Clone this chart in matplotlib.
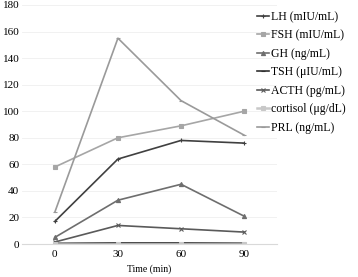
import matplotlib
matplotlib.use("Agg")
import matplotlib.pyplot as plt

# ── data ──────────────────────────────────────────────────────────────────────
time_min = [0, 30, 60, 90]
lh = [17, 64, 78, 76]
fsh = [58, 80, 89, 100]
gh = [5, 33, 45, 21]
tsh = [0.5, 0.8, 0.8, 0.6]
acth = [1.5, 14, 11.5, 9]
cortisol = [0.3, 0.3, 0.3, 0.3]
prl = [24, 155, 108, 82]

series = [
    ("LH (mIU/mL)", lh, "#404040", "+"),
    ("FSH (mIU/mL)", fsh, "#a6a6a6", "s"),
    ("GH (ng/mL)", gh, "#6e6e6e", "^"),
    ("TSH (μIU/mL)", tsh, "#303030", "_"),
    ("ACTH (pg/mL)", acth, "#5a5a5a", "x"),
    ("cortisol (μg/dL)", cortisol, "#c8c8c8", "s"),
    ("PRL (ng/mL)", prl, "#9a9a9a", "_"),
]

plt.rcParams["font.family"] = ["Liberation Serif", "DejaVu Serif"]

fig = plt.figure(figsize=(3.58, 2.77), dpi=100)
ax = fig.add_axes([0.0615, 0.119, 0.712, 0.863])

for label, vals, color, marker in series:
    lw = 1.8 if label.startswith("cortisol") else 1.2
    ax.plot(time_min, vals, color=color, lw=lw, marker=marker,
            markersize=3, markeredgewidth=0.8, label=label)

ax.set_xlim(-15.6, 105.6)
ax.set_ylim(0, 180)
ax.set_yticks(range(0, 181, 20))
ax.set_xticks(time_min)
ax.tick_params(labelsize=8, length=0, pad=4)
ax.tick_params(axis="y", pad=2)
ax.grid(axis="y", color="#efefef", lw=0.6)
ax.set_axisbelow(True)
for s in ("top", "right", "left"):
    ax.spines[s].set_visible(False)
ax.spines["bottom"].set_color("#d9d9d9")
ax.spines["bottom"].set_linewidth(0.8)
ax.set_xlabel("Time (min)", fontsize=7, labelpad=4)

fig.legend(loc="upper left", bbox_to_anchor=(0.705, 0.978), frameon=False,
           fontsize=8.5, handlelength=1.0, handletextpad=0.2, labelspacing=0.55,
           borderaxespad=0)

fig.savefig("out.png", dpi=100)
